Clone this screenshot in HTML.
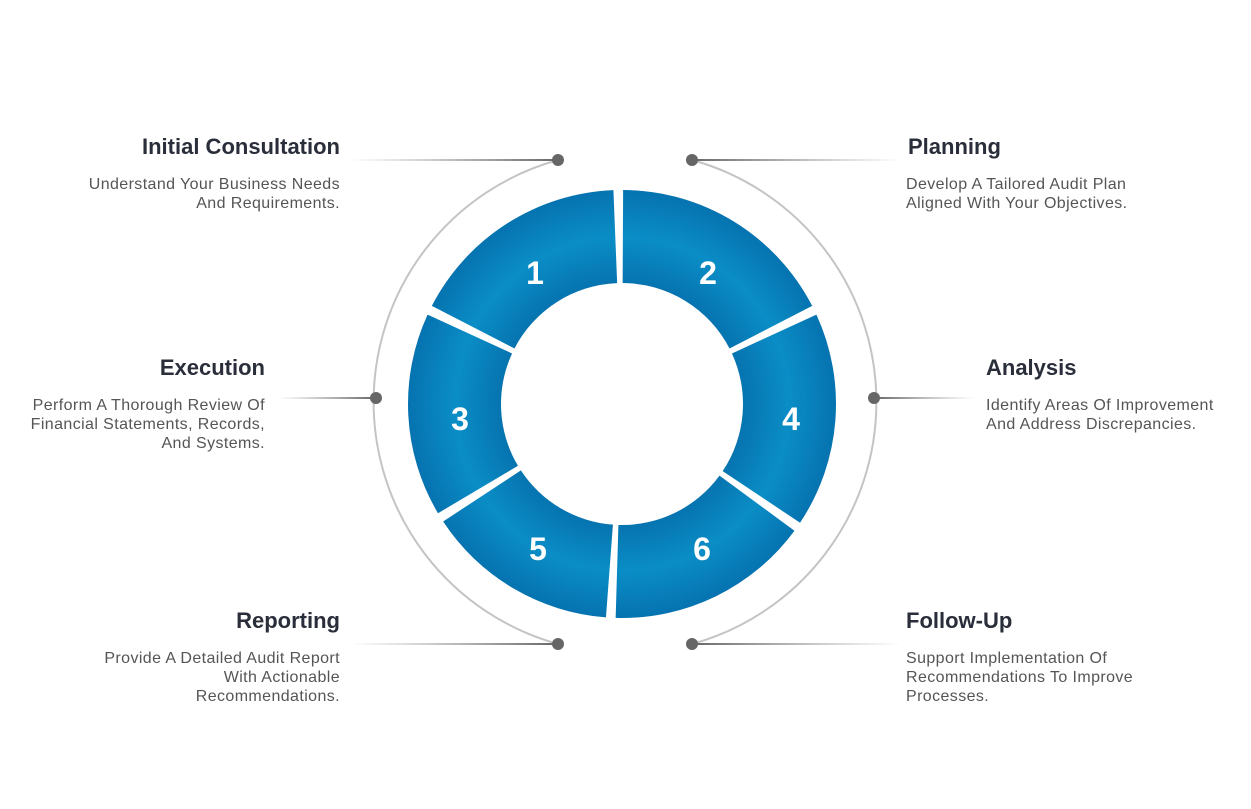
<!DOCTYPE html>
<html><head><meta charset="utf-8"><style>
body{margin:0;width:1251px;height:809px;background:#fff;position:relative;overflow:hidden;font-family:"Liberation Sans",sans-serif}
.t{position:absolute;font-size:22px;font-weight:bold;color:#2a2e3a;white-space:nowrap}
.d{position:absolute;font-size:16px;letter-spacing:0.4px;color:#555;line-height:19px;white-space:nowrap}
.r{text-align:right}
</style></head><body>
<svg width="1251" height="809" style="position:absolute;left:0;top:0">
<defs>
<radialGradient id="g" cx="622" cy="404" r="214" gradientUnits="userSpaceOnUse">
<stop offset="0.55" stop-color="#0672ae"/><stop offset="0.78" stop-color="#0a8dc6"/><stop offset="1" stop-color="#0673b0"/>
</radialGradient>
<linearGradient id="ll" x1="0" x2="1"><stop offset="0" stop-color="#888" stop-opacity="0"/><stop offset="1" stop-color="#666"/></linearGradient>
<linearGradient id="lr" x1="0" x2="1"><stop offset="0" stop-color="#666"/><stop offset="1" stop-color="#888" stop-opacity="0"/></linearGradient>
</defs>
<path d="M558 160 A251 251 0 0 0 558 644" fill="none" stroke="#c4c4c4" stroke-width="2"/>
<path d="M692 160 A251 251 0 0 1 692 644" fill="none" stroke="#c4c4c4" stroke-width="2"/>
<rect x="350" y="159" width="208" height="2" fill="url(#ll)"/>
<rect x="278" y="397" width="98" height="2" fill="url(#ll)"/>
<rect x="350" y="643" width="208" height="2" fill="url(#ll)"/>
<rect x="692" y="159" width="210" height="2" fill="url(#lr)"/>
<rect x="874" y="397" width="100" height="2" fill="url(#lr)"/>
<rect x="692" y="643" width="210" height="2" fill="url(#lr)"/>
<g fill="#666"><circle cx="558" cy="160" r="6"/><circle cx="692" cy="160" r="6"/><circle cx="376" cy="398" r="6"/><circle cx="874" cy="398" r="6"/><circle cx="558" cy="644" r="6"/><circle cx="692" cy="644" r="6"/></g>
<g id="ring"></g>
<g font-family="Liberation Sans" font-weight="bold" font-size="32" fill="#fff" text-anchor="middle">
<text x="535" y="284">1</text><text x="708" y="284">2</text><text x="460" y="430">3</text><text x="791" y="430">4</text><text x="538" y="560">5</text><text x="702" y="560">6</text>
</g>
</svg>
<script>
(function(){
var cx=622,cy=404,R=214,r=121,g=document.getElementById('ring');
var segs=[[91,154],[154,212],[212,267],[267,325],[325,386],[26,91]];
function p(a,rad){a=a*Math.PI/180;return [cx+rad*Math.cos(a),cy-rad*Math.sin(a)];}
segs.forEach(function(s){
var a0=s[0]+1.3,a1=s[1]-1.3;
var o0=p(a0,R),o1=p(a1,R),i0=p(a0,r),i1=p(a1,r);
var d='M'+o0+' A'+R+' '+R+' 0 0 0 '+o1+' L'+i1+' A'+r+' '+r+' 0 0 1 '+i0+' Z';
var e=document.createElementNS('http://www.w3.org/2000/svg','path');
e.setAttribute('d',d);e.setAttribute('fill','url(#g)');g.appendChild(e);
});
})();
</script>
<div class="t r" style="right:911px;top:134px">Initial Consultation</div>
<div class="d r" style="right:911px;top:175px">Understand Your Business Needs<br>And Requirements.</div>
<div class="t" style="left:908px;top:134px">Planning</div>
<div class="d" style="left:906px;top:175px">Develop A Tailored Audit Plan<br>Aligned With Your Objectives.</div>
<div class="t r" style="right:986px;top:355px">Execution</div>
<div class="d r" style="right:986px;top:396px">Perform A Thorough Review Of<br>Financial Statements, Records,<br>And Systems.</div>
<div class="t" style="left:986px;top:355px">Analysis</div>
<div class="d" style="left:986px;top:396px">Identify Areas Of Improvement<br>And Address Discrepancies.</div>
<div class="t r" style="right:911px;top:608px">Reporting</div>
<div class="d r" style="right:911px;top:649px">Provide A Detailed Audit Report<br>With Actionable<br>Recommendations.</div>
<div class="t" style="left:906px;top:608px">Follow-Up</div>
<div class="d" style="left:906px;top:649px">Support Implementation Of<br>Recommendations To Improve<br>Processes.</div>
</body></html>
